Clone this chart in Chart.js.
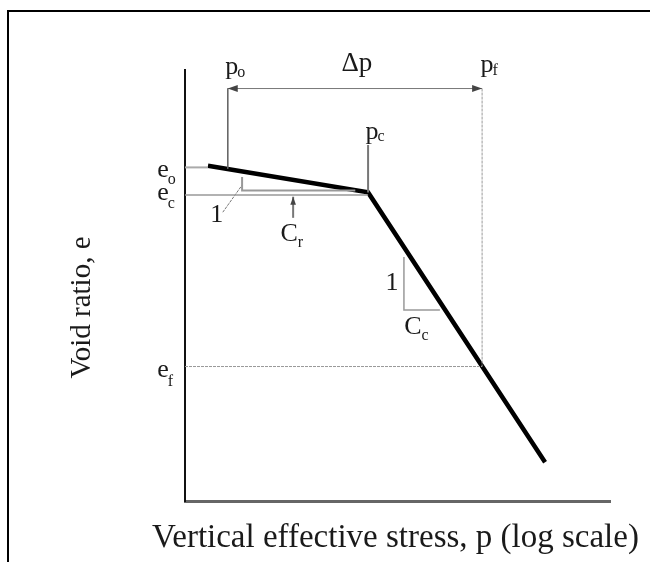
<!DOCTYPE html>
<html>
<head>
<meta charset="utf-8">
<script src="https://cdn.jsdelivr.net/npm/chart.js@4/dist/chart.umd.min.js"></script>
<style>
  body { margin: 0; background: #fff; }
  canvas { display: block; }
</style>
</head>
<body>
<canvas id="chart" width="650" height="562"></canvas>
<script>
// e - log p curve (p on log scale)
const curveStress = [13, 81, 612];
const curveVoid = [0.778, 0.716, 0.09];

// p_o, p_c, p_f and e_o, e_c, e_f
const keyStress = [16.3, 81, 298];
const keyVoid = [0.774, 0.71, 0.312];

// slope triangles
const crTriStress = [19.2, 19.2, 70];
const crTriVoid = [0.752, 0.7204, 0.7204];
const ccTriStress = [122, 122, 184];
const ccTriVoid = [0.566, 0.443, 0.443];

// small arrows / leaders
const crArrowStress = [34.4, 34.4];
const crArrowVoid = [0.657, 0.706];
const oneLeaderStress = [15.4, 19.2];
const oneLeaderVoid = [0.67, 0.733];
const deltaVoid = 0.957;
const pcTopVoid = 0.826;

const xTitle = "Vertical effective stress, p (log scale)";
const yTitle = "Void ratio, e";

const serif = "'Liberation Serif', 'DejaVu Serif', serif";

function pts(xs, ys) {
  return xs.map((x, i) => ({ x: x, y: ys[i] }));
}

function seg(data, color, width, dash) {
  return {
    data: data,
    showLine: true,
    borderColor: color,
    borderWidth: width,
    borderDash: dash || [],
    pointRadius: 0,
    fill: false,
  };
}

const [po, pc, pf] = keyStress;
const [eo, ec, ef] = keyVoid;

const datasets = [
  seg(pts([10, curveStress[0]], [eo, eo]), "#aaa", 2),
  seg(pts([10, pc], [ec, ec]), "#999", 1.5),
  seg(pts([10, pf], [ef, ef]), "#999", 1, [3, 1]),
  seg(pts([po, po], [deltaVoid, eo - 0.003]), "#666", 1),
  seg(pts([pf, pf], [deltaVoid, ef]), "#999", 1, [3, 1]),
  seg(pts([pc, pc], [pcTopVoid, curveVoid[1]]), "#777", 2),
  seg(pts([po, pf], [deltaVoid, deltaVoid]), "#777", 1),
  seg(pts(crTriStress, crTriVoid), "#999", 2),
  seg(pts(ccTriStress, ccTriVoid), "#999", 1.5),
  seg(pts(crArrowStress, crArrowVoid), "#777", 2),
  seg(pts(oneLeaderStress, oneLeaderVoid), "#777", 1, [3, 1]),
  seg(pts(curveStress, curveVoid), "#000", 4.5),
];

function arrowHead(ctx, x, y, dir, size, color) {
  // dir: angle the tip points to
  ctx.save();
  ctx.translate(x, y);
  ctx.rotate(dir);
  ctx.fillStyle = color;
  ctx.beginPath();
  ctx.moveTo(0, 0);
  ctx.lineTo(-size, -size * 0.35);
  ctx.lineTo(-size, size * 0.35);
  ctx.closePath();
  ctx.fill();
  ctx.restore();
}

function subText(ctx, main, sub, x, y, size, subSize, dx, dy) {
  ctx.font = size + "px " + serif;
  ctx.textAlign = "center";
  ctx.textBaseline = "middle";
  ctx.fillText(main, x, y);
  const w = ctx.measureText(main).width;
  ctx.font = subSize + "px " + serif;
  ctx.textAlign = "left";
  ctx.fillText(sub, x + w / 2 + dx, y + dy);
}

const labelsPlugin = {
  id: "labels",
  afterDatasetsDraw(chart) {
    const ctx = chart.ctx;
    const xs = chart.scales.x;
    const ys = chart.scales.y;
    const X = (v) => xs.getPixelForValue(v);
    const Y = (v) => ys.getPixelForValue(v);
    const area = chart.chartArea;
    ctx.save();

    // arrows
    arrowHead(ctx, X(po), Y(deltaVoid), Math.PI, 10, "#444");
    arrowHead(ctx, X(pf), Y(deltaVoid), 0, 10, "#444");
    arrowHead(ctx, X(crArrowStress[1]), Y(crArrowVoid[1]), -Math.PI / 2, 8, "#444");

    ctx.fillStyle = "#1a1a1a";
    const left = area.left;

    // top labels
    subText(ctx, "p", "o", X(po) + 4, Y(deltaVoid) - 21, 26, 16, -1, 5);
    ctx.font = "27px " + serif;
    ctx.textAlign = "center";
    ctx.fillText("\u0394p", (X(po) + X(pf)) / 2 + 2, Y(deltaVoid) - 25);
    subText(ctx, "p", "f", X(pf) + 5, Y(deltaVoid) - 23, 26, 16, -1, 5);
    subText(ctx, "p", "c", X(pc) + 4, Y(pcTopVoid) - 13, 26, 16, -1, 5);

    // void ratio labels
    subText(ctx, "e", "o", left - 22, Y(eo) + 3, 26, 16, -1, 9);
    subText(ctx, "e", "c", left - 22, Y(ec) - 2, 26, 16, -1, 11);
    subText(ctx, "e", "f", left - 22, Y(ef) + 4, 26, 16, -1, 11);

    // slopes
    subText(ctx, "C", "r", X(crArrowStress[0]) - 4, Y(crArrowVoid[0]) + 16, 26, 16, 0, 9);
    ctx.font = "26px " + serif;
    ctx.textAlign = "center";
    ctx.fillText("1", X(oneLeaderStress[0]) - 6, Y(oneLeaderVoid[0]) + 3);
    ctx.fillText("1", X(ccTriStress[0]) - 12, (Y(ccTriVoid[0]) + Y(ccTriVoid[1])) / 2);
    subText(ctx, "C", "c", X(ccTriStress[0]) + 9, Y(ccTriVoid[1]) + 17, 26, 16, 0, 9);

    // axis titles (wider than the axis, so drawn here)
    ctx.font = "33px " + serif;
    ctx.textAlign = "center";
    ctx.textBaseline = "middle";
    ctx.fillText(xTitle, (area.left + area.right) / 2 - 2, area.bottom + 37);

    ctx.translate(82, (area.top + area.bottom) / 2 + 22);
    ctx.rotate(-Math.PI / 2);
    ctx.font = "29px " + serif;
    ctx.fillText(yTitle, 0, 0);
    ctx.restore();
  },
  afterDraw(chart) {
    const ctx = chart.ctx;
    ctx.save();
    ctx.fillStyle = "#000";
    ctx.fillRect(7, 10, 2, chart.height - 10);
    ctx.fillRect(7, 10, chart.width - 7, 2);
    ctx.restore();
  },
};

new Chart(document.getElementById("chart"), {
  type: "scatter",
  data: { datasets: datasets },
  options: {
    responsive: false,
    animation: false,
    layout: { padding: { left: 185, right: 40, top: 70, bottom: 61 } },
    plugins: { legend: { display: false }, tooltip: { enabled: false } },
    scales: {
      x: {
        type: "logarithmic",
        min: 10,
        max: 1285,
        ticks: { display: false },
        grid: { display: false, drawTicks: false },
        border: { color: "#666", width: 3 },
      },
      y: {
        min: 0,
        max: 1,
        ticks: { display: false },
        grid: { display: false, drawTicks: false },
        border: { color: "#111", width: 2 },
      },
    },
  },
  plugins: [labelsPlugin],
});
</script>
</body>
</html>
